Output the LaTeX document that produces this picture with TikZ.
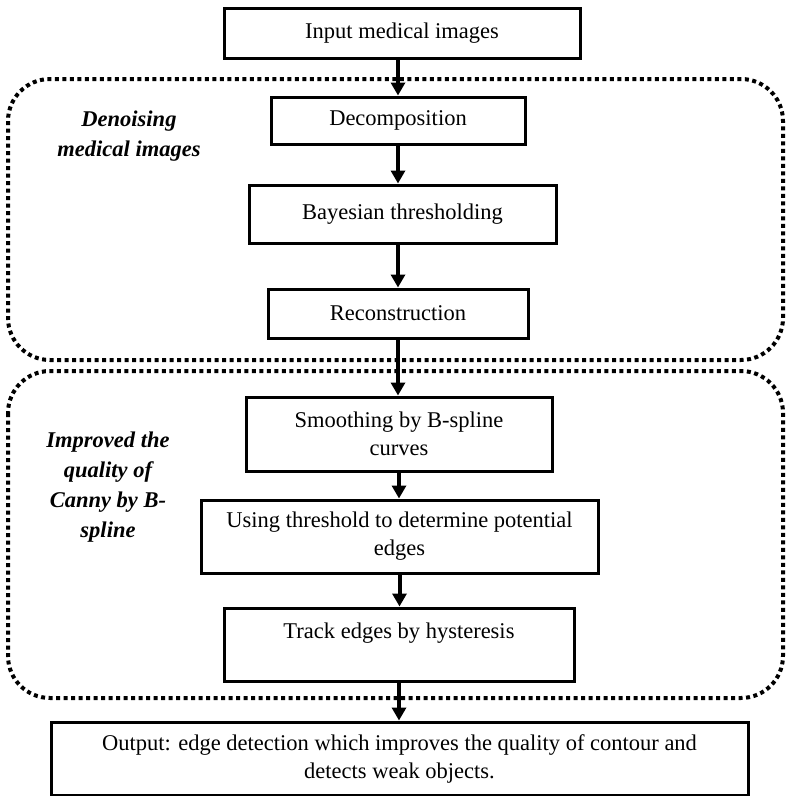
\documentclass[tikz,border=0pt]{standalone}
\usepackage{fontspec}
\setmainfont{Liberation Serif}
\usetikzlibrary{arrows.meta}
\begin{document}
\begin{tikzpicture}
[
   x=1pt, y=-1pt,
   every node/.style={font=\fontsize{22.5}{28}\selectfont},
   stage/.style={draw,line width=3pt,align=center,inner sep=0pt},
   group/.style={line width=4pt,dash pattern=on 4pt off 3.5pt,rounded corners=42pt},
   tag/.style={font=\fontsize{22.5}{30}\selectfont\bfseries\itshape,align=center},
   arr/.style={line width=4pt,-{Triangle[length=13pt,width=14pt]}}
]
\useasboundingbox (0,0) rectangle (786,796);
\draw[group] (8,79) rectangle (783,360);
\draw[group] (8,371) rectangle (783,698);
\node[tag] (denoise) at (129,136) {Denoising\\medical images};
\node[tag] (canny) at (108,487) {Improved the\\quality of\\Canny by B-\\spline};
\node[stage,minimum width=356pt,minimum height=50pt] (in) at (402,33) {Input medical images};
\node[stage,minimum width=254pt,minimum height=47pt] (dec) at (398,120.5) {Decomposition};
\node[stage,minimum width=307pt,minimum height=58pt] (bay) at (402.5,214) {Bayesian thresholding};
\node[stage,minimum width=260pt,minimum height=49pt] (rec) at (398,313.5) {Reconstruction};
\node[stage,minimum width=306pt,minimum height=74pt] (smo) at (399,434) {Smoothing by B-spline\\curves};
\node[stage,minimum width=397pt,minimum height=73pt] (use) at (399.5,536.5) {Using threshold to determine potential\\edges};
\node[stage,minimum width=350pt,minimum height=73pt] (trk) at (399,644.5) {Track edges by hysteresis\\~};
\node[stage,minimum width=697pt,minimum height=73pt] (out) at (399.5,758.5) {Output: edge detection which improves the quality of contour and\\detects weak objects.};
\draw[arr] (dec.north |- in.south) -- (dec.north);
\draw[arr] (dec.south) -- (dec.south |- bay.north);
\draw[arr] (rec.north |- bay.south) -- (rec.north);
\draw[arr] (rec.south) -- (rec.south |- smo.north);
\draw[arr] (smo.south) -- (smo.south |- use.north);
\draw[arr] (use.south) -- (use.south |- trk.north);
\draw[arr] (trk.south) -- (trk.south |- out.north);
\end{tikzpicture}
\end{document}
